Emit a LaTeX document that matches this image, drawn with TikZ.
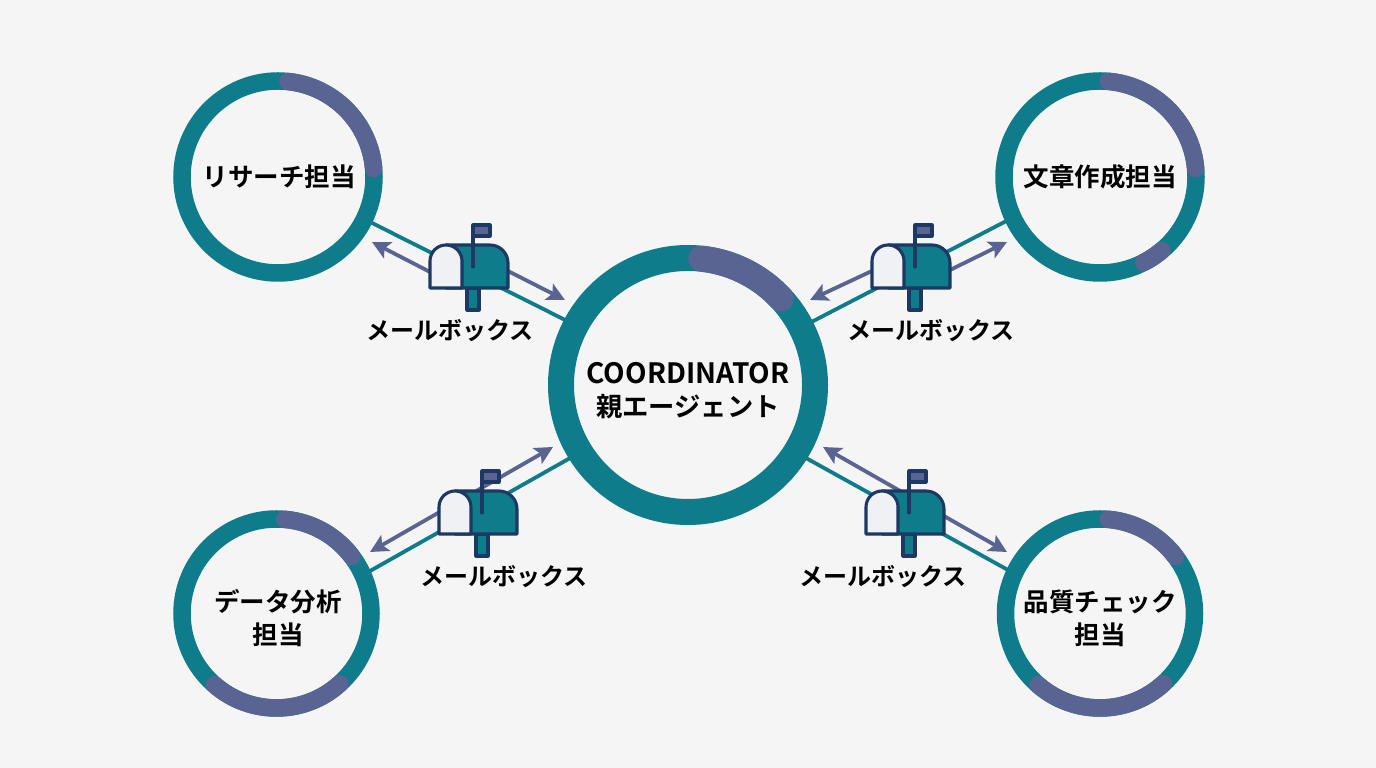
\documentclass[tikz,border=0pt]{standalone}
\usepackage{fontspec}
\setmainfont{Noto Sans CJK JP}[BoldFont={Noto Sans CJK JP Bold}]
\usetikzlibrary{arrows.meta,calc}
\definecolor{bgc}{HTML}{F5F5F6}
\definecolor{tealc}{HTML}{0E7C8B}
\definecolor{purc}{HTML}{5A6492}
\definecolor{navyc}{HTML}{1D3862}
\definecolor{doorc}{HTML}{F0F1F5}
\tikzset{
  x=1pt,y=1pt,
  ringbig/.style={circle,draw=tealc,fill=bgc,line width=26pt,inner sep=0pt,outer sep=0pt,minimum size=254pt},
  ringsmall/.style={circle,draw=tealc,fill=bgc,line width=17.5pt,inner sep=0pt,outer sep=0pt,minimum size=192pt},
  link/.style={draw=tealc,line width=3.8pt},
  msg/.style={draw=purc,line width=3.8pt,-{Stealth[length=18pt,width=18pt,inset=4pt]}},
  msgboth/.style={draw=purc,line width=3.8pt,{Stealth[length=18pt,width=18pt,inset=4pt]}-{Stealth[length=18pt,width=18pt,inset=4pt]}},
  arcpur/.style={draw=purc,line cap=round},
  boxtext/.style={font=\bfseries\fontsize{24}{28}\selectfont,inner sep=0pt,text=black},
  ringtext/.style={font=\bfseries\fontsize{25.5}{33}\selectfont,inner sep=0pt,align=center,text=black},
  mbline/.style={draw=navyc,line width=3.1pt,line join=round},
  mailbox/.pic={
    \path[mbline,fill=tealc] (37,0) rectangle (49,-22);
    \path[mbline,fill=tealc] (16,0) -- (78,0) -- (78,25) arc[start angle=0,end angle=90,radius=18] -- (16,43) -- cycle;
    \path[mbline,fill=doorc] (0,0) -- (0,27) arc[start angle=180,end angle=0,radius=16] -- (32,0) -- cycle;
    \path[mbline,line cap=round] (43,21) -- (43,62);
    \path[mbline,fill=purc] (43,52) rectangle (60,63);
  }
}
\newcommand{\ringarc}[5]{\draw[arcpur,line width=#3pt] ($(#1)+(#4:#2)$) arc[start angle=#4,end angle=#5,radius=#2];}
\begin{document}
\begin{tikzpicture}
\useasboundingbox[fill=bgc] (0,0) rectangle (1376,768);
\node[ringbig] (c) at (688,383) {};
\node[ringsmall] (tl) at (278,591) {};
\node[ringsmall] (tr) at (1100,591) {};
\node[ringsmall,minimum size=189pt] (bl) at (276.5,154.5) {};
\node[ringsmall,minimum size=189pt] (br) at (1100,154.5) {};
% purple arcs
\ringarc{c}{127}{26}{84}{43}
\ringarc{tl}{96}{17.5}{84}{5}
\ringarc{tr}{96}{17.5}{85}{5}
\ringarc{tr}{96}{17.5}{-63}{-50}
\ringarc{bl}{94.5}{17.5}{85}{37}
\ringarc{bl}{94.5}{17.5}{229}{312}
\ringarc{br}{94.5}{17.5}{85}{37}
\ringarc{br}{94.5}{17.5}{229}{312}
% teal connectors
\draw[link] (tl.-26) -- (c.152.5);
\draw[link] (tr.205.5) -- (c.27.5);
\draw[link] (bl.24.5) -- (c.212.5);
\draw[link] (br.155.5) -- (c.-32.5);
% message arrows
\coordinate (tlIn) at (432,495);
\coordinate (tlTip) at (372,526);
\coordinate (tlOut) at (506,498);
\coordinate (tlEnd) at (565,468);
\coordinate (trIn) at (874,498);
\coordinate (trTip) at (810,468);
\coordinate (trOut) at (948,497);
\coordinate (trEnd) at (1007,526);
\coordinate (blA) at (370,216);
\coordinate (blB) at (553,321);
\coordinate (brA) at (823,321);
\coordinate (brB) at (1007,216);
\draw[msg] (tlIn) -- (tlTip);
\draw[msg] (tlOut) -- (tlEnd);
\draw[msg] (trIn) -- (trTip);
\draw[msg] (trOut) -- (trEnd);
\draw[msgboth] (blA) -- (blB);
\draw[msgboth] (brA) -- (brB);
% mailboxes
\pic (mbtl) at (430,480) {mailbox};
\pic (mbtr) at (872,480) {mailbox};
\pic (mbbl) at (439,234) {mailbox};
\pic (mbbr) at (866,234) {mailbox};
% labels
\node[boxtext] (ltl) at (450,437) {メールボックス};
\node[boxtext] (ltr) at (931,437) {メールボックス};
\node[boxtext] (lbl) at (504,191) {メールボックス};
\node[boxtext] (lbr) at (883,191) {メールボックス};
\node[ringtext,font=\bfseries\fontsize{26.3}{33}\selectfont] (tc) at (688,377) {{\fontsize{28}{33}\selectfont COORDINATOR}\\親エージェント};
\node[ringtext] (ttl) at (279,591) {リサーチ担当};
\node[ringtext] (ttr) at (1100,591) {文章作成担当};
\node[ringtext] (tbl) at (278,150) {データ分析\\担当};
\node[ringtext] (tbr) at (1100,150) {品質チェック\\担当};
\end{tikzpicture}
\end{document}
